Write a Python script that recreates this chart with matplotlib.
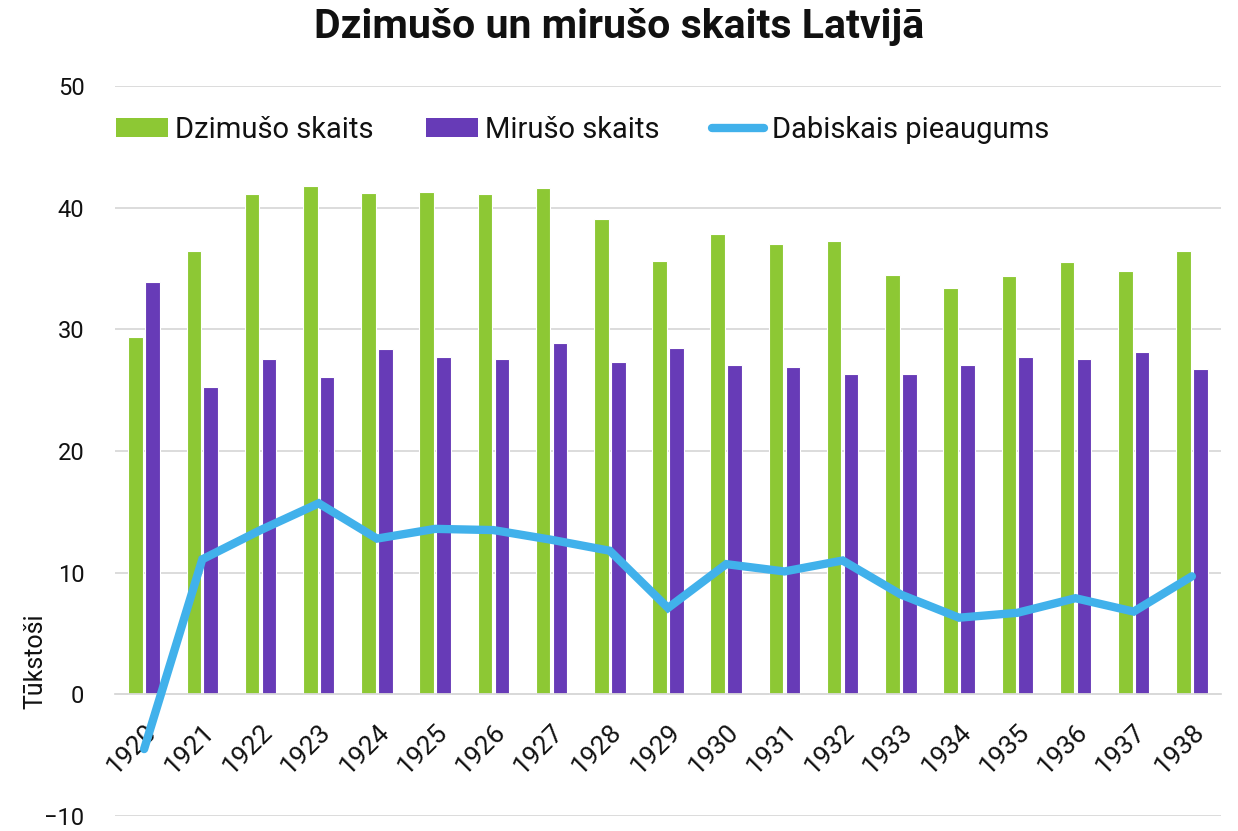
import matplotlib.pyplot as plt
import numpy as np
from matplotlib.lines import Line2D
from matplotlib.patches import Patch

# ---------------------------------------------------------------------------
# Data (thousands)
# ---------------------------------------------------------------------------
years = [str(y) for y in range(1920, 1939)]
births = [29.4, 36.4, 41.1, 41.8, 41.2, 41.3, 41.1, 41.6, 39.1, 35.6,
          37.8, 37.0, 37.3, 34.5, 33.4, 34.4, 35.5, 34.8, 36.4]
deaths = [33.9, 25.3, 27.6, 26.1, 28.4, 27.7, 27.6, 28.9, 27.3, 28.5,
          27.1, 26.9, 26.3, 26.3, 27.1, 27.7, 27.6, 28.1, 26.7]
increase = [-4.5, 11.1, 13.5, 15.7, 12.8, 13.6, 13.5, 12.7, 11.8, 7.1,
            10.7, 10.1, 11.0, 8.2, 6.3, 6.7, 7.9, 6.8, 9.7]
y_ticks = [-10, 0, 10, 20, 30, 40, 50]

GREEN = "#8DC834"
PURPLE = "#673BB7"
BLUE = "#41B1EB"
GRID = "#D9D9D9"
INK = "#111111"

plt.rcParams.update({
    "font.family": ["Roboto", "DejaVu Sans"],
    "text.color": INK,
    "xtick.color": INK,
    "ytick.color": INK,
})

fig = plt.figure(figsize=(12.38, 8.31), dpi=100)
ax = fig.add_axes([115 / 1238, 15 / 831, 1106 / 1238, 730 / 831])

x = np.arange(len(years))
w = 0.25
ax.bar(x - 0.145, births, width=w, color=GREEN, edgecolor="white", linewidth=0.8, zorder=2)
ax.bar(x + 0.145, deaths, width=w, color=PURPLE, edgecolor="white", linewidth=0.8, zorder=2)
ax.plot(x, increase, color=BLUE, linewidth=6, solid_capstyle="round",
        solid_joinstyle="miter", zorder=3)

ax.set_xlim(-0.5, len(years) - 0.5)
ax.set_ylim(-10, 50)
ax.set_yticks(y_ticks)
ax.yaxis.grid(True, color=GRID, linewidth=1.3, zorder=0)
ax.set_axisbelow(True)

for side in ["top", "right", "left"]:
    ax.spines[side].set_visible(False)
ax.spines["bottom"].set_position(("data", 0))
ax.spines["bottom"].set_color(GRID)
ax.spines["bottom"].set_linewidth(1.3)

ax.set_xticks(x)
ax.set_xticklabels(years, rotation=45, ha="right", va="top", rotation_mode="anchor", fontsize=19)
ax.tick_params(axis="x", length=0, pad=18)
ax.tick_params(axis="y", length=0, pad=22, labelsize=17)

fig.text(35 / 1238, 1 - 661 / 831, "Tūkstoši", rotation=90, ha="center", va="center", fontsize=18)

fig.text(0.5, 1 - 27 / 831, "Dzimušo un mirušo skaits Latvijā", ha="center", va="center",
         fontsize=29.5, fontweight="bold")

handles = [
    Patch(facecolor=GREEN, edgecolor="none", label="Dzimušo skaits"),
    Patch(facecolor=PURPLE, edgecolor="none", label="Mirušo skaits"),
    Line2D([0], [0], color=BLUE, linewidth=6, solid_capstyle="round", label="Dabiskais pieaugums"),
]
fig.legend(handles=handles, loc="center left", bbox_to_anchor=(116 / 1238, 1 - 130 / 831),
           ncol=3, frameon=False, fontsize=21, handlelength=1.78, handleheight=0.65,
           handletextpad=0.25, columnspacing=1.8, borderaxespad=0, borderpad=0)

fig.savefig("out.png", dpi=100)
